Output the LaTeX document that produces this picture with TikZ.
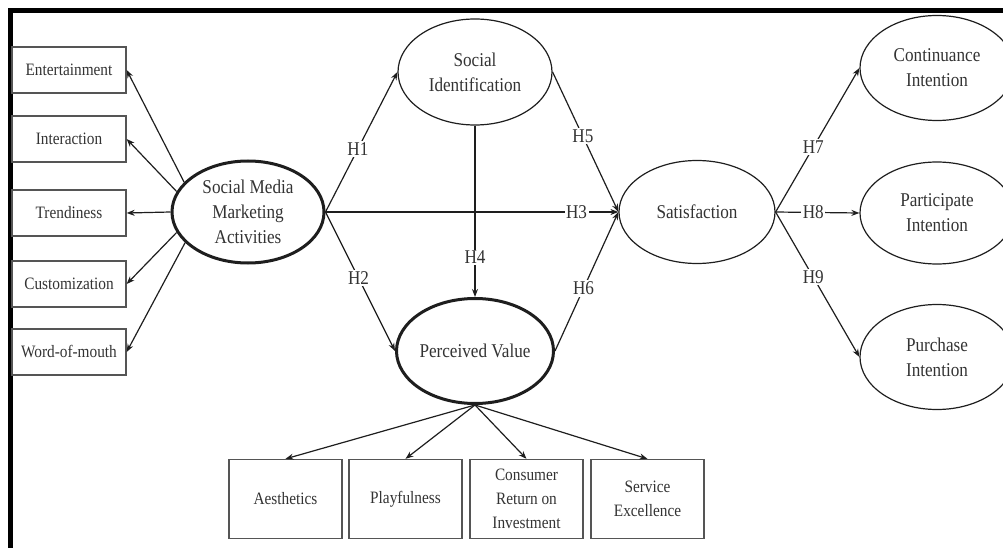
\documentclass[tikz,border=0pt]{standalone}
\usepackage{fontspec}
\setmainfont[FakeStretch=0.88]{Liberation Serif}
\usetikzlibrary{shapes.geometric,arrows.meta}
\definecolor{linec}{HTML}{1E1E1E}
\definecolor{boxc}{HTML}{555555}
\definecolor{textc}{HTML}{333333}
\begin{document}
\begin{tikzpicture}[x=1pt,y=-1pt,
  lat/.style={ellipse, draw=linec, line width=1.2pt, inner sep=0pt, align=center, text=textc, font=\fontsize{19.5}{25}\selectfont},
  latthick/.style={lat, line width=3pt},
  ind/.style={rectangle, draw=boxc, line width=1.3pt, inner sep=0pt, align=center, text=textc, font=\fontsize{17.4}{24}\selectfont},
  leftbox/.style={ind, minimum width=114pt, minimum height=46pt},
  botbox/.style={ind, minimum width=113pt, minimum height=79pt},
  arr/.style={draw=linec, line width=1.2pt, -{Stealth[length=8pt,width=6pt]}},
  hlab/.style={fill=white, inner sep=1.5pt, text=textc, font=\fontsize{19.5}{22}\selectfont}]
\useasboundingbox (0,0) rectangle (1003,548);
\clip (0,0) rectangle (1003,548);

% frame
\draw[line width=5pt, black] (10,548) -- (10,11) -- (1003,11);

% latent constructs
\node[latthick, minimum width=152pt, minimum height=102pt] (smma) at (248,212) {Social Media\\Marketing\\Activities};
\node[lat, minimum width=154pt, minimum height=106pt] (si) at (475,72) {Social\\Identification};
\node[latthick, minimum width=155pt, minimum height=105pt] (pv) at (475,351) {Perceived Value};
\node[lat, minimum width=156pt, minimum height=103pt] (sat) at (697,212) {Satisfaction};
\node[lat, minimum width=154pt, minimum height=105pt] (ci) at (937,68) {Continuance\\Intention};
\node[lat, minimum width=154pt, minimum height=102pt] (pi) at (937,213) {Participate\\Intention};
\node[lat, minimum width=154pt, minimum height=105pt] (pui) at (937,357) {Purchase\\Intention};

% SMMA indicators
\node[leftbox] (ent) at (69,70) {Entertainment};
\node[leftbox] (int) at (69,139) {Interaction};
\node[leftbox] (tre) at (69,213) {Trendiness};
\node[leftbox] (cus) at (69,284) {Customization};
\node[leftbox] (wom) at (69,352) {Word-of-mouth};

% PV indicators
\node[botbox] (aes) at (285.5,499) {Aesthetics};
\node[botbox] (pla) at (405.5,499) {Playfulness};
\node[botbox] (cro) at (526.5,499) {Consumer\\Return on\\Investment};
\node[botbox] (ser) at (647.5,499) {Service\\Excellence};

% indicator arrows
\draw[arr] (smma.155) -- (ent.east);
\draw[arr] (smma.164) -- (int.east);
\draw[arr] (smma.180) -- (tre.east);
\draw[arr] (smma.196) -- (cus.east);
\draw[arr] (smma.206) -- (wom.east);
\draw[arr] (pv.south) -- (aes.north);
\draw[arr] (pv.south) -- (pla.north);
\draw[arr] (pv.south) -- (cro.north);
\draw[arr] (pv.south) -- (ser.north);

% hypotheses
\draw[arr] (smma.east) -- node[hlab, pos=0.45] {H1} (si.west);
\draw[arr] (smma.east) -- node[hlab, pos=0.475] {H2} (pv.west);
\draw[arr] (smma.east) -- node[hlab, pos=0.857] {H3} (sat.west);
\draw[arr] (si.south) -- node[hlab, pos=0.77] {H4} (pv.north);
\draw[arr] (si.east) -- node[hlab, pos=0.46] {H5} (sat.west);
\draw[arr] (pv.east) -- node[hlab, pos=0.45] {H6} (sat.west);
\draw[arr] (sat.east) -- node[hlab, pos=0.45] {H7} (ci.west);
\draw[arr] (sat.east) -- node[hlab, pos=0.45] {H8} (pi.west);
\draw[arr] (sat.east) -- node[hlab, pos=0.45] {H9} (pui.west);
\end{tikzpicture}
\end{document}
